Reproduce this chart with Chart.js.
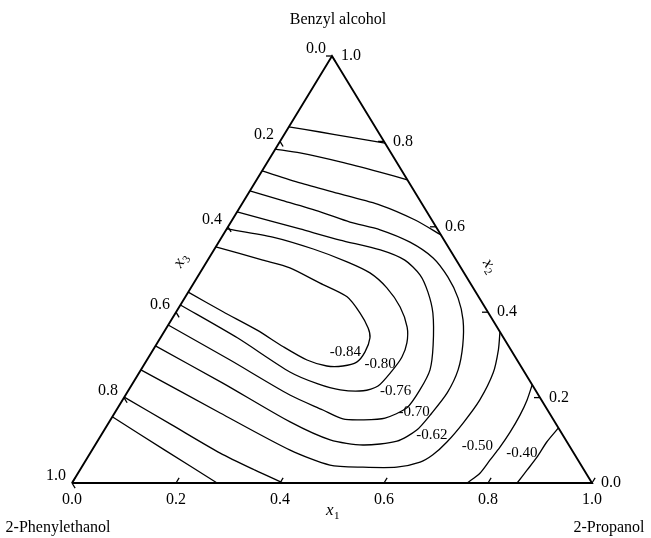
<!DOCTYPE html>
<html>
<head>
<meta charset="utf-8">
<script src="https://cdn.jsdelivr.net/npm/chart.js@4.4.1/dist/chart.umd.min.js"></script>
<style>
  html, body { margin: 0; padding: 0; background: #fff; }
</style>
</head>
<body>
<canvas id="ternary" width="651" height="538"></canvas>
<script>
// component at each vertex: left (x3), top (x2), right (x1)
const vertexNames = ['2-Phenylethanol', 'Benzyl alcohol', '2-Propanol'];
const tickValues = [0, 0.2, 0.4, 0.6, 0.8, 1.0];
const tickLabels = ['0.0', '0.2', '0.4', '0.6', '0.8', '1.0'];

// contour lines, each point is [x1, x2]  (x3 = 1 - x1 - x2)
const topLine1 = [[0, 0.834], [0.066, 0.822], [0.129, 0.810], [0.204, 0.796]];
const topLine2 = [[0, 0.782], [0.052, 0.773], [0.140, 0.752], [0.228, 0.728], [0.290, 0.710]];
const topLine3 = [[0, 0.731], [0.087, 0.703], [0.177, 0.677], [0.267, 0.651], [0.352, 0.616], [0.419, 0.581]];
const c070 = [[0, 0.684], [0.069, 0.663], [0.160, 0.635], [0.229, 0.611], [0.296, 0.593], [0.368, 0.564],
  [0.431, 0.527], [0.482, 0.482], [0.526, 0.433], [0.561, 0.382], [0.590, 0.323], [0.610, 0.265],
  [0.616, 0.211], [0.610, 0.164], [0.601, 0.124], [0.576, 0.098], [0.515, 0.089], [0.446, 0.101],
  [0.348, 0.143], [0.173, 0.234], [0, 0.321]];
const c076 = [[0, 0.635], [0.074, 0.614], [0.141, 0.595], [0.231, 0.569], [0.320, 0.546], [0.379, 0.522],
  [0.426, 0.487], [0.461, 0.447], [0.495, 0.398], [0.533, 0.323], [0.556, 0.265], [0.560, 0.218],
  [0.556, 0.176], [0.526, 0.152], [0.486, 0.148], [0.446, 0.150], [0.397, 0.171], [0.316, 0.206],
  [0.160, 0.288], [0, 0.370]];
const c080 = [[0, 0.595], [0.098, 0.576], [0.190, 0.548], [0.270, 0.518], [0.327, 0.492], [0.377, 0.457],
  [0.425, 0.412], [0.462, 0.365], [0.480, 0.328], [0.487, 0.295], [0.484, 0.262], [0.475, 0.227],
  [0.452, 0.216], [0.407, 0.218], [0.357, 0.232], [0.289, 0.260], [0.148, 0.340], [0, 0.417]];
const c084 = [[0, 0.553], [0.106, 0.522], [0.167, 0.504], [0.243, 0.468], [0.311, 0.436], [0.355, 0.398],
  [0.388, 0.363], [0.403, 0.340], [0.410, 0.307], [0.406, 0.283], [0.384, 0.274], [0.353, 0.274],
  [0.308, 0.288], [0.247, 0.319], [0.177, 0.358], [0.090, 0.401], [0, 0.447]];
const c062 = [[0, 0.265], [0.203, 0.164], [0.381, 0.077], [0.475, 0.042], [0.541, 0.037], [0.606, 0.037],
  [0.645, 0.049], [0.661, 0.066], [0.673, 0.096], [0.682, 0.141], [0.687, 0.194], [0.681, 0.258],
  [0.664, 0.312], [0.646, 0.354]];
const c050Left = [[0, 0.201], [0.124, 0.136], [0.250, 0.070], [0.337, 0.030], [0.406, 0]];
const c050Right = [[0.760, 0], [0.773, 0.023], [0.777, 0.054], [0.781, 0.084], [0.783, 0.119],
  [0.782, 0.159], [0.778, 0.194], [0.770, 0.230]];
const c040Left = [[0, 0.155], [0.140, 0.077], [0.279, 0]];
const c040Right = [[0.856, 0], [0.860, 0.030], [0.864, 0.061], [0.865, 0.096], [0.871, 0.129]];

// contour labels and where they sit, [x1, x2]
const labelTexts = ['-0.84', '-0.80', '-0.76', '-0.70', '-0.62', '-0.50', '-0.40'];
const labelX1 = [0.372, 0.453, 0.515, 0.575, 0.636, 0.736, 0.830];
const labelX2 = [0.307, 0.279, 0.215, 0.166, 0.112, 0.087, 0.070];

const contourLines = [topLine1, topLine2, topLine3, c070, c076, c080, c084, c062,
  c050Left, c050Right, c040Left, c040Right];

// composition -> plot coordinates (x along the base, y = height)
function toXY(line) {
  return line.map(p => ({ x: p[0] + p[1] / 2, y: p[1] }));
}

const serif = '"Liberation Serif", "Times New Roman", serif';

const ternaryDecor = {
  id: 'ternaryDecor',
  afterDatasetsDraw(chart) {
    const ctx = chart.ctx;
    const xs = chart.scales.x, ys = chart.scales.y;
    const pt = (x1, x2) => [xs.getPixelForValue(x1 + x2 / 2), ys.getPixelForValue(x2)];
    const L = pt(0, 0), R = pt(1, 0), T = pt(0, 1);
    const unit = (a, b) => {
      const dx = b[0] - a[0], dy = b[1] - a[1], d = Math.hypot(dx, dy);
      return [dx / d, dy / d];
    };
    const upLeft = unit(L, T), downRight = unit(T, R), toLeft = unit(R, L);
    const tickLen = 6;

    ctx.save();
    ctx.strokeStyle = '#000';
    ctx.lineWidth = 1.3;
    ctx.fillStyle = '#000';
    ctx.font = '16px ' + serif;
    ctx.textBaseline = 'middle';

    tickValues.forEach((v, i) => {
      // x1 on the base
      let p = pt(v, 0);
      ctx.beginPath();
      ctx.moveTo(p[0], p[1]);
      ctx.lineTo(p[0] + upLeft[0] * tickLen, p[1] + upLeft[1] * tickLen);
      ctx.stroke();
      ctx.textAlign = 'center';
      ctx.fillText(tickLabels[i], p[0], p[1] + 17);

      // x2 on the right side
      p = pt(1 - v, v);
      ctx.beginPath();
      ctx.moveTo(p[0], p[1]);
      ctx.lineTo(p[0] + toLeft[0] * tickLen, p[1] + toLeft[1] * tickLen);
      ctx.stroke();
      ctx.textAlign = 'left';
      ctx.fillText(tickLabels[i], p[0] + 9, p[1]);

      // x3 on the left side
      p = pt(0, 1 - v);
      ctx.beginPath();
      ctx.moveTo(p[0], p[1]);
      ctx.lineTo(p[0] + downRight[0] * tickLen, p[1] + downRight[1] * tickLen);
      ctx.stroke();
      ctx.textAlign = 'center';
      ctx.fillText(tickLabels[i], p[0] - 16, p[1] - 7);
    });

    // contour labels
    ctx.font = '15px ' + serif;
    ctx.textAlign = 'center';
    labelTexts.forEach((t, i) => {
      const p = pt(labelX1[i], labelX2[i]);
      ctx.fillText(t, p[0], p[1]);
    });

    // vertex names
    ctx.font = '16px ' + serif;
    ctx.fillText(vertexNames[1], T[0] + 6, T[1] - 36);
    ctx.fillText(vertexNames[0], L[0] - 14, L[1] + 45);
    ctx.fillText(vertexNames[2], R[0] + 17, R[1] + 45);

    // axis titles x1, x2, x3
    function axisTitle(sub, x, y, angle) {
      ctx.save();
      ctx.translate(x, y);
      ctx.rotate(angle);
      ctx.textAlign = 'left';
      ctx.font = 'italic 17px ' + serif;
      ctx.fillText('x', -6, 0);
      ctx.font = '11px ' + serif;
      ctx.fillText(sub, 2, 5);
      ctx.restore();
    }
    const m1 = pt(0.5, 0);
    axisTitle('1', m1[0], m1[1] + 28, 0);
    const m3 = pt(0, 0.52);
    axisTitle('3', m3[0] - 27, m3[1], Math.atan2(T[1] - L[1], T[0] - L[0]));
    const m2 = pt(0.49, 0.51);
    axisTitle('2', m2[0] + 30, m2[1], Math.atan2(R[1] - T[1], R[0] - T[0]));

    ctx.restore();
  }
};

const datasets = contourLines.map(line => ({
  data: toXY(line),
  showLine: true,
  borderColor: '#000',
  borderWidth: 1.3,
  pointRadius: 0,
  tension: 0.25,
  clip: false
}));
datasets.push({
  data: toXY([[0, 0], [1, 0], [0, 1], [0, 0]]),
  showLine: true,
  borderColor: '#000',
  borderWidth: 1.9,
  pointRadius: 0,
  tension: 0,
  clip: false
});

new Chart(document.getElementById('ternary').getContext('2d'), {
  type: 'scatter',
  data: { datasets: datasets },
  options: {
    responsive: false,
    animation: false,
    layout: { padding: { left: 72, right: 59, top: 56, bottom: 55 } },
    scales: {
      x: { type: 'linear', min: 0, max: 1, display: false },
      y: { type: 'linear', min: 0, max: 1, display: false }
    },
    plugins: {
      legend: { display: false },
      tooltip: { enabled: false }
    }
  },
  plugins: [ternaryDecor]
});
</script>
</body>
</html>
